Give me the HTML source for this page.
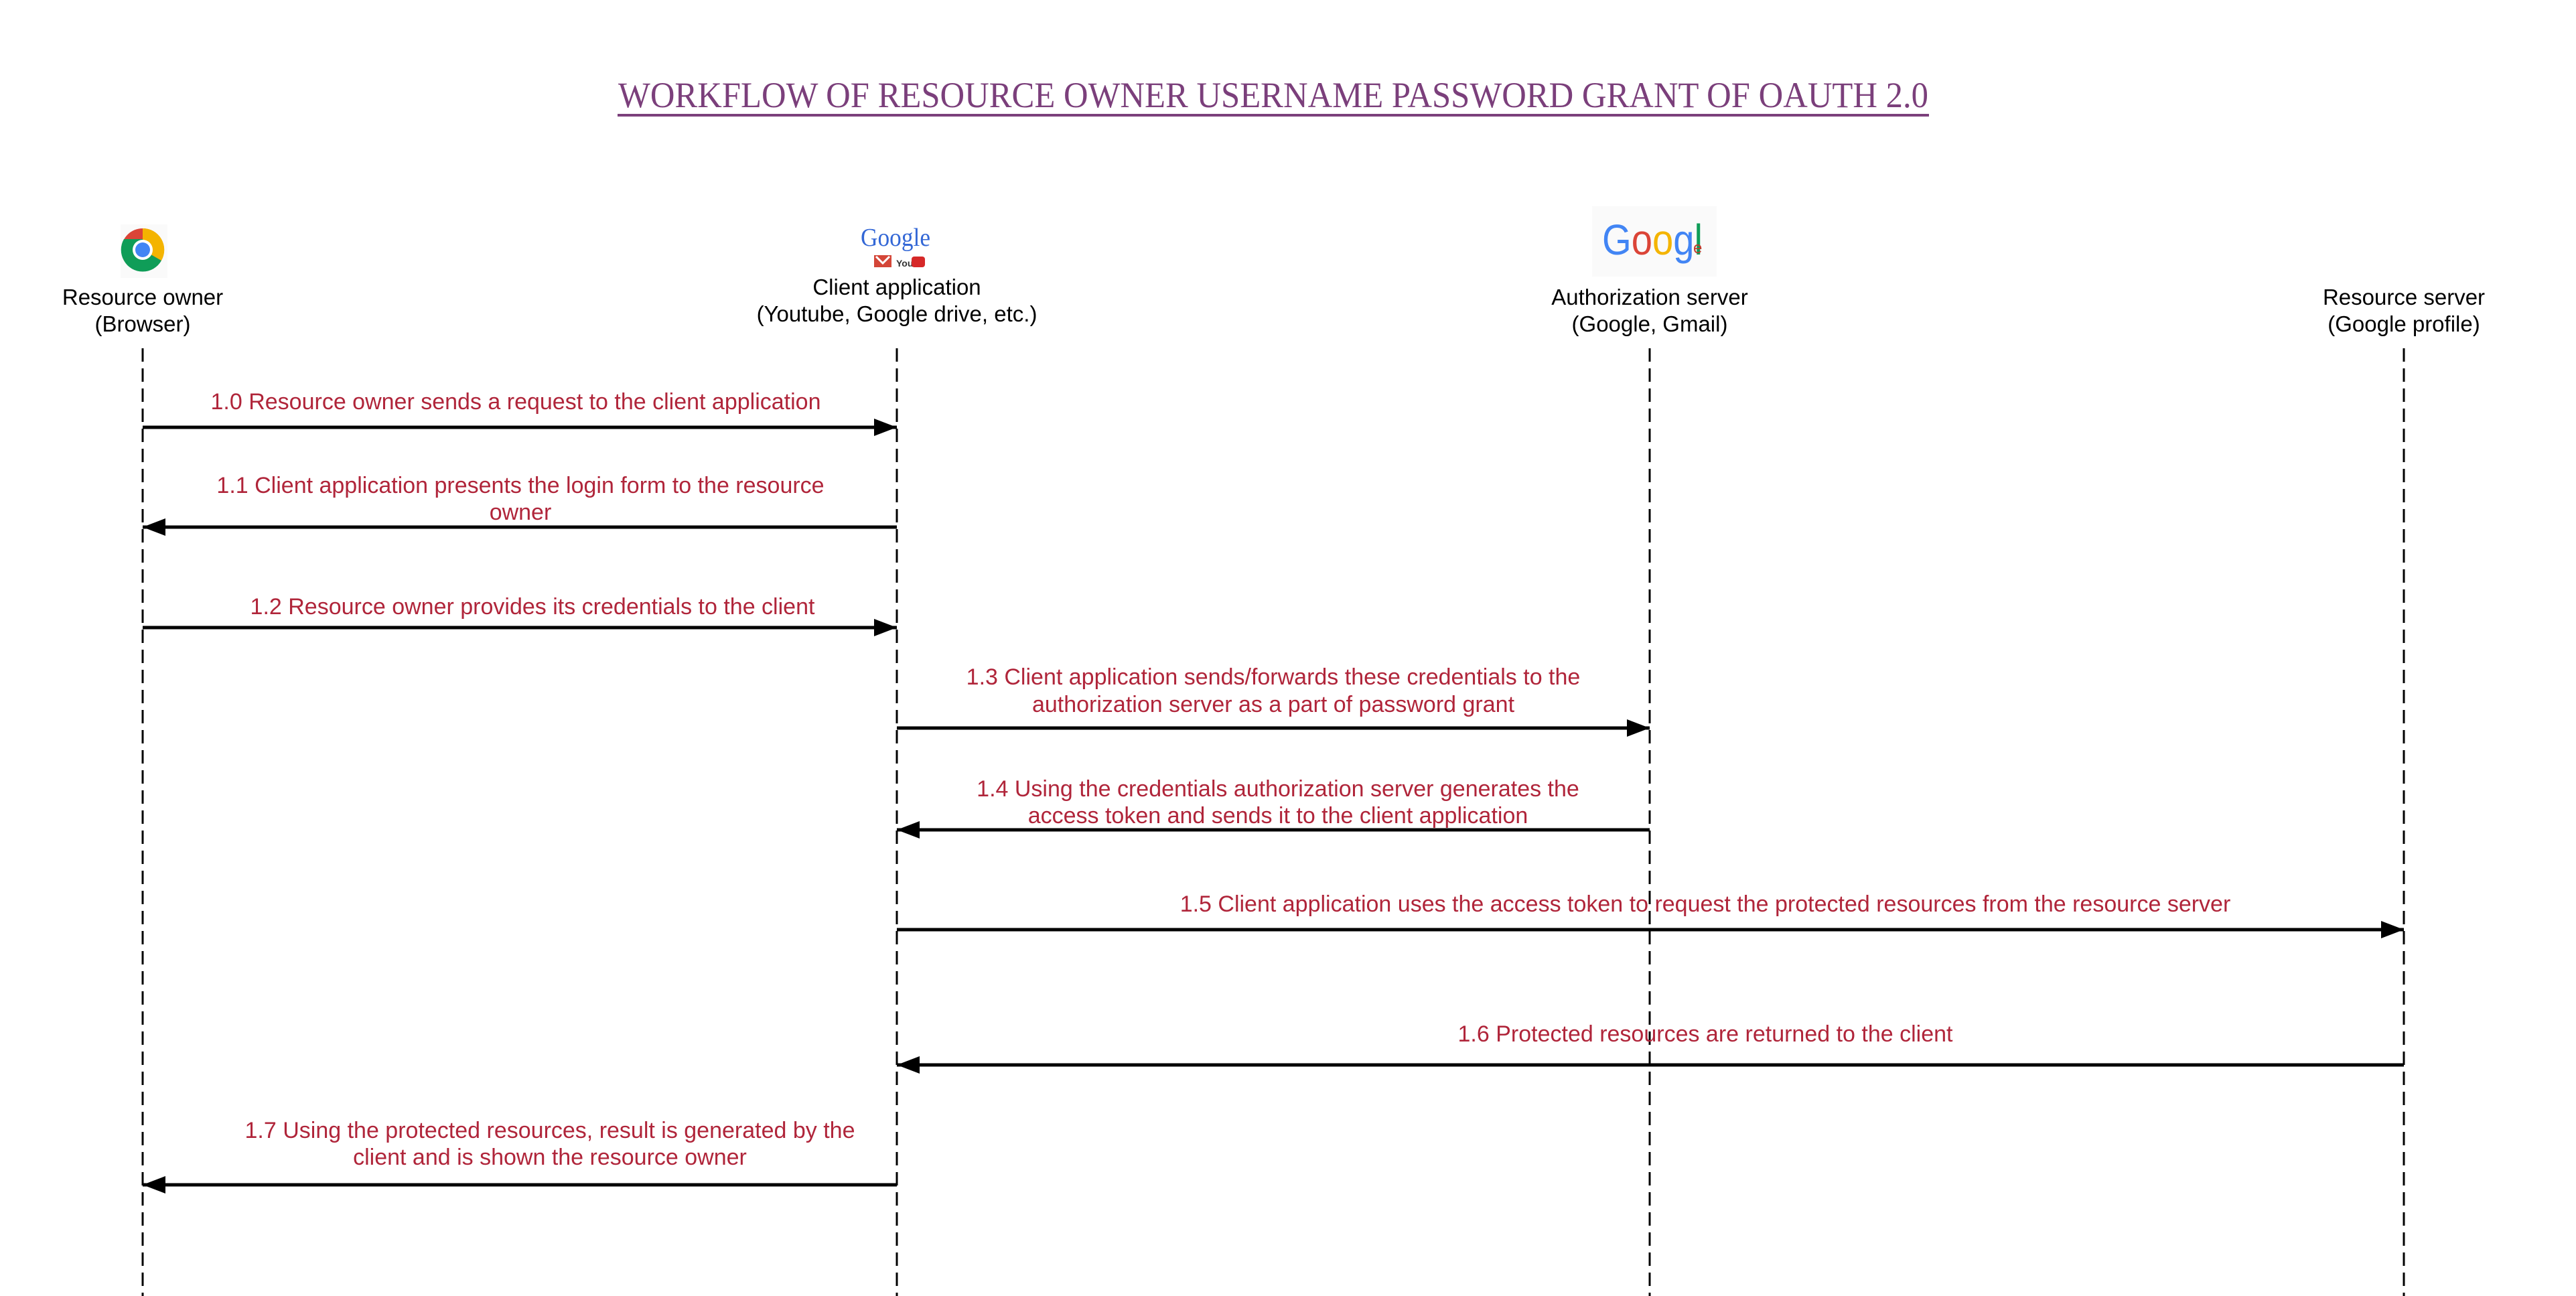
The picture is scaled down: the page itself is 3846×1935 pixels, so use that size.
<!DOCTYPE html>
<html><head><meta charset="utf-8"><style>
html,body{margin:0;padding:0;background:#fff;}
svg{display:block;}
</style></head><body>
<svg width="3846" height="1935" viewBox="0 0 3846 1935" xmlns="http://www.w3.org/2000/svg">
<defs>
<marker id="ah" markerWidth="34" markerHeight="26" refX="34" refY="13" orient="auto" markerUnits="userSpaceOnUse">
<path d="M0,0 L34,13 L0,26 z" fill="#000"/>
</marker>
</defs>
<text x="1901" y="160" text-anchor="middle" font-family="Liberation Serif, serif" font-size="54" fill="#7b3f7b" textLength="1956" lengthAdjust="spacingAndGlyphs">WORKFLOW OF RESOURCE OWNER USERNAME PASSWORD GRANT OF OAUTH 2.0</text>
<rect x="922" y="170" width="1958" height="4" fill="#7b3f7b"/>

<g stroke="#000" stroke-width="3" stroke-dasharray="20,10">
<line x1="213" y1="520" x2="213" y2="1935"/>
<line x1="1339" y1="520" x2="1339" y2="1935"/>
<line x1="2463" y1="520" x2="2463" y2="1935"/>
<line x1="3589" y1="520" x2="3589" y2="1935"/>
</g>

<rect x="180" y="335" width="70" height="80" fill="#fafafa"/>
<circle cx="213" cy="373" r="32" fill="#db4437"/>
<path d="M213,373 L241,389 A32,32 0 0 1 185,389 z" fill="#0f9d58"/>
<path d="M213,373 L213,341 A32,32 0 0 1 241,389 z" fill="#f4b400"/>
<path d="M213,373 L185,389 A32,32 0 0 1 185,357 L213,357 z" fill="#0f9d58"/>
<circle cx="213" cy="373" r="15" fill="#fff"/>
<circle cx="213" cy="373" r="11" fill="#4285f4"/>

<text x="1337" y="367" text-anchor="middle" font-family="Liberation Serif, serif" font-size="38" fill="#3367d6" textLength="104" lengthAdjust="spacingAndGlyphs">Google</text>
<rect x="1305" y="381" width="26" height="18" fill="#d44638"/>
<path d="M1308,383 L1318,393 L1328,383" stroke="#fff" stroke-width="3" fill="none"/>
<text x="1338" y="398" font-family="Liberation Sans, sans-serif" font-size="14" font-weight="bold" fill="#333">You</text>
<rect x="1361" y="383" width="20" height="16" rx="4" fill="#d62828"/>

<rect x="2377" y="308" width="186" height="105" fill="#fafafa"/>
<text x="2392" y="380" font-family="Liberation Sans, sans-serif" font-size="64" textLength="150" lengthAdjust="spacingAndGlyphs"><tspan fill="#4285f4">G</tspan><tspan fill="#db4437">o</tspan><tspan fill="#f4b400">o</tspan><tspan fill="#4285f4">g</tspan><tspan fill="#0f9d58">l</tspan></text>
<text x="2528" y="378" font-family="Liberation Sans, sans-serif" font-size="24" fill="#c0392b">e</text>

<g font-family="Liberation Sans, sans-serif" font-size="33" fill="#000" text-anchor="middle">
<text x="213" y="455">Resource owner</text>
<text x="213" y="495">(Browser)</text>
<text x="1339" y="440">Client application</text>
<text x="1339" y="480">(Youtube, Google drive, etc.)</text>
<text x="2463" y="455">Authorization server</text>
<text x="2463" y="495">(Google, Gmail)</text>
<text x="3589" y="455">Resource server</text>
<text x="3589" y="495">(Google profile)</text>
</g>

<g stroke="#000" stroke-width="5" fill="none">
<line x1="213" y1="638" x2="1339" y2="638" marker-end="url(#ah)"/>
<line x1="1339" y1="787" x2="213" y2="787" marker-end="url(#ah)"/>
<line x1="213" y1="937" x2="1339" y2="937" marker-end="url(#ah)"/>
<line x1="1339" y1="1087" x2="2463" y2="1087" marker-end="url(#ah)"/>
<line x1="2463" y1="1239" x2="1339" y2="1239" marker-end="url(#ah)"/>
<line x1="1339" y1="1388" x2="3589" y2="1388" marker-end="url(#ah)"/>
<line x1="3589" y1="1590" x2="1339" y2="1590" marker-end="url(#ah)"/>
<line x1="1339" y1="1769" x2="213" y2="1769" marker-end="url(#ah)"/>
</g>

<g font-family="Liberation Sans, sans-serif" font-size="34" fill="#b0253a" text-anchor="middle">
<text x="770" y="611">1.0 Resource owner sends a request to the client application</text>
<text x="777" y="736">1.1 Client application presents the login form to the resource</text>
<text x="777" y="776">owner</text>
<text x="795" y="917">1.2 Resource owner provides its credentials to the client</text>
<text x="1901" y="1022">1.3 Client application sends/forwards these credentials to the</text>
<text x="1901" y="1063">authorization server as a part of password grant</text>
<text x="1908" y="1189">1.4 Using the credentials authorization server generates the</text>
<text x="1908" y="1229">access token and sends it to the client application</text>
<text x="2546" y="1361">1.5 Client application uses the access token to request the protected resources from the resource server</text>
<text x="2546" y="1555">1.6 Protected resources are returned to the client</text>
<text x="821" y="1699">1.7 Using the protected resources, result is generated by the</text>
<text x="821" y="1739">client and is shown the resource owner</text>
</g>
</svg>
</body></html>
